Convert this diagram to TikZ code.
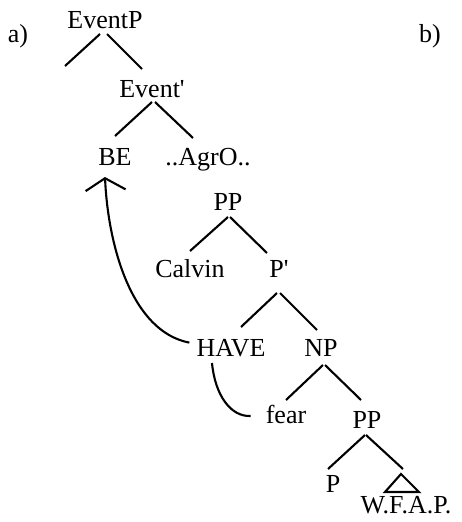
\documentclass[tikz,border=0pt]{standalone}
\usepackage{fontspec}
\setmainfont{Liberation Serif}
\usepackage{tikz}
\usetikzlibrary{arrows.meta, calc}

\begin{document}
\begin{tikzpicture}[
  x=1pt, y=-1pt,
  tag/.style={font=\fontsize{26pt}{30pt}\selectfont, inner sep=0pt, anchor=base},
  branch/.style={line width=2.1pt},
  move/.style={line width=2.1pt}
]
  \useasboundingbox (0,0) rectangle (461,522);

  % Labels
  \node[tag] (parta) at (18,42) {a)};
  \node[tag] (partb) at (430,42) {b)};

  % Tree
  \node[tag] (eventp) at (105,28) {EventP};
  \node[tag] (ebar) at (152,97) {Event\textquotesingle};
  \node[tag] (be) at (115,165) {BE};
  \node[tag] (agro) at (208,165) {..AgrO..};
  \node[tag] (ppa) at (228,210) {PP};
  \node[tag] (calvin) at (190,277) {Calvin};
  \node[tag] (pbar) at (279,277) {P\textquotesingle};
  \node[tag] (have) at (231,356) {HAVE};
  \node[tag] (np) at (321,356) {NP};
  \node[tag] (fear) at (286,423) {fear};
  \node[tag] (ppb) at (367,428) {PP};
  \node[tag] (prep) at (333,492) {P};
  \node[tag] (wfap) at (406,513) {W.F.A.P.};
  \coordinate (spec) at (65,66);
  \coordinate (tri) at (401,474);

  % Branches
  \foreach \a/\b/\sx/\sy/\ex/\ey in {eventp/ebar/2/6/-10/-28, ebar/be/0/5/0/-29,
      ebar/agro/3/5/-15/-27, ppa/calvin/0/7/0/-26, ppa/pbar/2/7/-12/-24,
      pbar/have/-2/16/10/-29, pbar/np/1/16/-4/-26, np/fear/2/9/0/-23,
      np/ppb/4/9/-6/-28, ppb/prep/-2/7/-5/-23} {
    \draw[branch] ([shift={(\sx,\sy)}]\a.base) -- ([shift={(\ex,\ey)}]\b.base);
  }
  \draw[branch] ([shift={(-5,6)}]eventp.base) -- (spec);
  \draw[branch] ([shift={(-1,7)}]ppb.base) -- ([shift={(2,-5)}]tri);
  \draw[branch] (tri) -- ++(-16,18) -- ++(34,0) -- cycle;

  % Movement
  \draw[move, -{Straight Barb[length=12pt, width=40pt]}] ([shift={(-7,-5)}]have.west)
    .. controls +(-58,-11) and +(3,68) .. ([shift={(-10,12)}]be.base);
  \draw[move] ([shift={(-19,7)}]have.base)
    .. controls +(3,32) and +(-20,1) .. ([shift={(-15,2)}]fear.west);
\end{tikzpicture}
\end{document}
